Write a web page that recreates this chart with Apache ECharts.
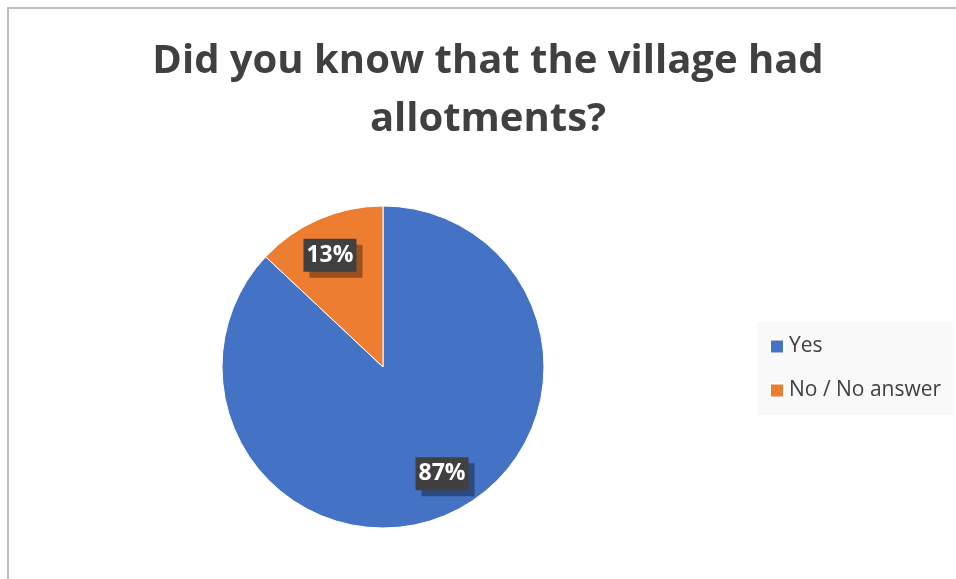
<!DOCTYPE html>
<html>
<head>
<meta charset="utf-8">
<script src="https://cdn.jsdelivr.net/npm/echarts@6/dist/echarts.min.js"></script>
<style>
  html, body { margin: 0; padding: 0; background: #fff; }
  #main { width: 956px; height: 579px; }
</style>
</head>
<body>
<div id="main"></div>
<script type="text/javascript">
// 数据
var categories = ['Yes', 'No / No answer'];
var values = [87, 13];
var colors = ['#4472c4', '#ed7d31'];

var pieData = [];
for (var i = 0; i < categories.length; i++) {
  pieData.push({ name: categories[i], value: values[i], itemStyle: { color: colors[i] } });
}
// 标签微调
var labelOffsets = [[9, -9], [-3, 4]];

var myChart = echarts.init(document.getElementById('main'));
var option = {
  animation: false,
  title: {
    text: 'Did you know that the village had\nallotments?',
    left: 483,
    textAlign: 'center',
    top: 28,
    textStyle: {
      fontFamily: 'Open Sans',
      fontWeight: 'bold',
      fontSize: 40,
      lineHeight: 58,
      color: '#404040'
    }
  },
  legend: {
    orient: 'vertical',
    left: 757,
    top: 322,
    padding: [14, 12, 14, 12],
    backgroundColor: '#f9f9f9',
    itemWidth: 14,
    itemHeight: 14,
    itemGap: 23,
    icon: 'rect',
    data: categories,
    textStyle: { fontFamily: 'Open Sans', fontSize: 21, color: '#404040' }
  },
  graphic: [{
    type: 'rect',
    shape: { x: 8, y: 8, width: 960, height: 580 },
    style: { fill: 'none', stroke: '#bfbfbf', lineWidth: 2 },
    silent: true
  }],
  series: [{
    type: 'pie',
    center: [383, 367],
    radius: [0, 161],
    startAngle: 90,
    clockwise: true,
    data: pieData,
    label: { show: false },
    labelLine: { show: false },
    itemStyle: { borderColor: '#fff', borderWidth: 1 },
    silent: true
  }, {
    // 标签层
    type: 'pie',
    center: [383, 367],
    radius: [86, 160],
    startAngle: 90,
    clockwise: true,
    data: pieData.map(function (d, i) {
      return { name: d.name, value: d.value, itemStyle: { color: 'rgba(0,0,0,0)' }, label: { offset: labelOffsets[i] } };
    }),
    labelLine: { show: false },
    label: {
      show: true,
      position: 'inside',
      formatter: '{c}%',
      fontFamily: 'Open Sans',
      fontWeight: 'bold',
      fontSize: 23,
      color: '#fff',
      backgroundColor: '#404040',
      padding: [6, 3, 4, 3],
      shadowColor: 'rgba(0,0,0,0.35)',
      shadowOffsetX: 6,
      shadowOffsetY: 6,
      shadowBlur: 0
    },
    emphasis: { disabled: true },
    silent: true
  }]
};
myChart.setOption(option);
</script>
</body>
</html>
